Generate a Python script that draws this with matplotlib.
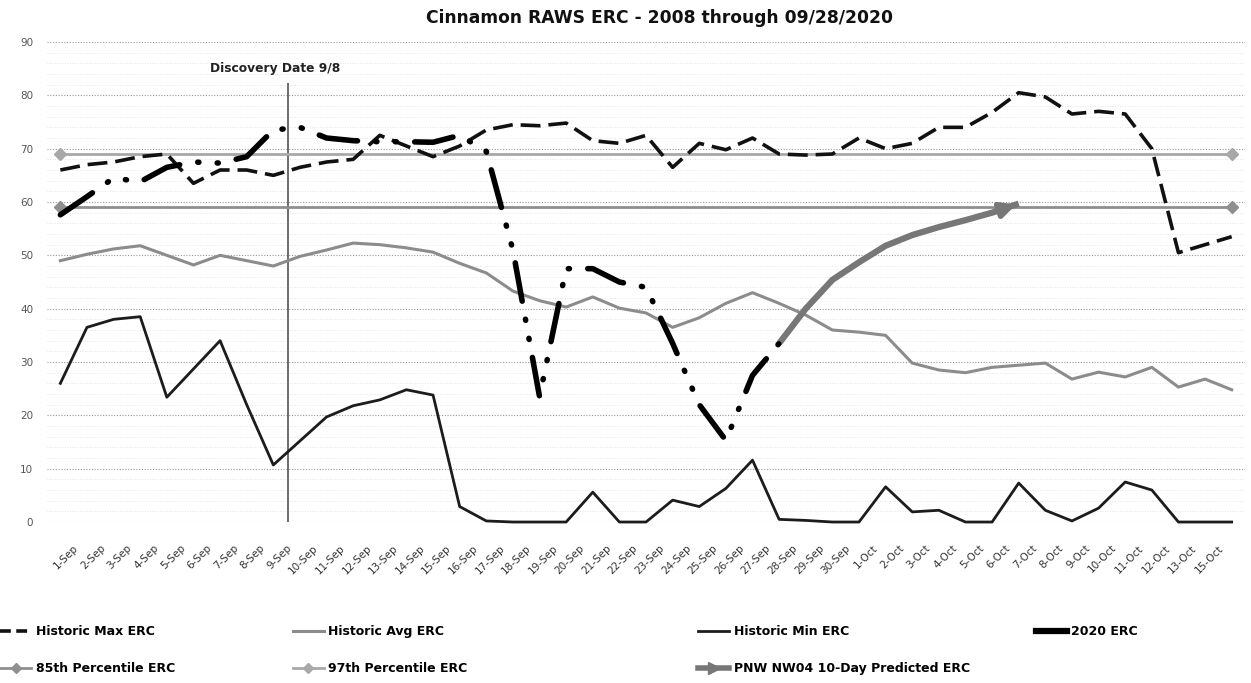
import numpy as np
import matplotlib.pyplot as plt
from matplotlib.lines import Line2D
from matplotlib.ticker import MultipleLocator
import matplotlib.transforms as mtransforms

# categories along the x axis (last category carries no label in the original)
day_labels = [
    "1-Sep", "2-Sep", "3-Sep", "4-Sep", "5-Sep", "6-Sep", "7-Sep", "8-Sep", "9-Sep", "10-Sep",
    "11-Sep", "12-Sep", "13-Sep", "14-Sep", "15-Sep", "16-Sep", "17-Sep", "18-Sep", "19-Sep", "20-Sep",
    "21-Sep", "22-Sep", "23-Sep", "24-Sep", "25-Sep", "26-Sep", "27-Sep", "28-Sep", "29-Sep", "30-Sep",
    "1-Oct", "2-Oct", "3-Oct", "4-Oct", "5-Oct", "6-Oct", "7-Oct", "8-Oct", "9-Oct", "10-Oct",
    "11-Oct", "12-Oct", "13-Oct", "15-Oct", "",
]

hist_max = [66, 67, 67.5, 68.5, 69, 63.5, 66, 66, 65, 66.5,
            67.5, 68, 72.5, 70.5, 68.5, 70.5, 73.5, 74.5, 74.3, 74.8,
            71.5, 71, 72.5, 66.5, 71, 69.8, 72, 69, 68.8, 69,
            72, 70, 71, 74, 74, 76.8, 80.5, 79.7, 76.5, 77,
            76.5, 70, 50.5, 52, 53.5]

hist_avg = [49, 50.2, 51.2, 51.8, 50, 48.2, 50, 49, 48, 49.8,
            51, 52.3, 52, 51.4, 50.6, 48.5, 46.7, 43.3, 41.5, 40.3,
            42.2, 40.1, 39.2, 36.5, 38.3, 41, 43, 41, 38.8, 36,
            35.6, 35, 29.8, 28.5, 28, 29, 29.4, 29.8, 26.8, 28.1,
            27.2, 29, 25.3, 26.8, 24.8]

hist_min = [26, 36.5, 38, 38.5, 23.4, 28.7, 34, 22, 10.7, 15.2,
            19.7, 21.8, 22.9, 24.8, 23.8, 2.9, 0.2, 0, 0, 0,
            5.6, 0, 0, 4.1, 2.9, 6.3, 11.6, 0.5, 0.3, 0,
            0, 6.6, 1.9, 2.2, 0, 0, 7.3, 2.2, 0.2, 2.6,
            7.5, 6, 0, 0, 0]

nan = np.nan
erc_2020 = [57.6, 61, 64.5, 63.8, 66.5, 67.5, 67.3, 68.5, 73.5, 74,
            72, 71.5, 71.3, 71.3, 71.2, 72.5, 69.5, 51, 23.5, 47.5,
            47.5, 45, 44, 33.5, 22, 15.3, 27.5, 33.5, nan, nan,
            nan, nan, nan, nan, nan, nan, nan, nan, nan, nan,
            nan, nan, nan, nan, nan]

predicted = [nan, nan, nan, nan, nan, nan, nan, nan, nan, nan,
             nan, nan, nan, nan, nan, nan, nan, nan, nan, nan,
             nan, nan, nan, nan, nan, nan, nan, 33.5, 40, 45.4,
             48.7, 51.8, 53.8, 55.3, 56.6, 58, 59.7, nan, nan, nan,
             nan, nan, nan, nan, nan]

pct85 = 59
pct97 = 69

discovery_pos = 8.55   # where the "Discovery Date 9/8" marker sits on the category axis
discovery_top = 82.3

x = np.arange(len(day_labels))

fig = plt.figure(figsize=(12.51, 6.83), dpi=100)
ax = fig.add_axes([0.0376, 0.2357, 0.9576, 0.7028])

# gridlines
ax.set_ylim(0, 90)
ax.set_xlim(-0.5, len(x) - 0.5)
ax.yaxis.set_major_locator(MultipleLocator(10))
ax.yaxis.set_minor_locator(MultipleLocator(2))
ax.grid(axis="y", which="major", color="#9a9a9a", lw=0.8, linestyle=(0, (1, 1.5)))
ax.grid(axis="y", which="minor", color="#dcdcdc", lw=0.6, linestyle=(0, (1, 2)))
ax.set_axisbelow(True)
for s in ax.spines.values():
    s.set_visible(False)

# series
ax.plot(x, hist_avg, color="#8c8c8c", lw=2.2, zorder=3)
ax.plot(x, hist_min, color="#1c1c1c", lw=2.0, zorder=3, clip_on=False)
ax.plot(x, np.full(len(x), pct97), color="#a8a8a8", lw=2.0, marker="D", ms=6,
        markevery=[0, len(x) - 1], zorder=3)
ax.plot(x, np.full(len(x), pct85), color="#8f8f8f", lw=2.0, marker="D", ms=6,
        markevery=[0, len(x) - 1], zorder=3)
ax.plot(x, hist_max, color="#111111", lw=2.6, dashes=(5.5, 2.2), zorder=4)

pred = np.array(predicted)
ok = np.where(~np.isnan(pred))[0]
ax.plot(x, pred, color="#777777", lw=4.5, zorder=4, solid_capstyle="butt")
ax.annotate("", xy=(x[ok[-1]], pred[ok[-1]]), xytext=(x[ok[-2]], pred[ok[-2]]),
            arrowprops=dict(arrowstyle="-|>", color="#777777", lw=4, mutation_scale=22),
            zorder=4)

ax.plot(x, erc_2020, color="black", lw=4.0, dashes=(7, 3.3, 0.2, 3.3, 0.2, 3.3),
        dash_capstyle="round", zorder=5)

# discovery marker
ax.vlines(discovery_pos, 0, discovery_top, color="#444444", lw=1.1, zorder=2)
ax.text(discovery_pos - 0.5, 85, "Discovery Date 9/8", ha="center", va="center",
        fontsize=8.8, fontweight="bold", color="#222222")

# ticks
ax.set_xticks(x)
ax.set_xticklabels(day_labels, rotation=45, ha="right", rotation_mode="anchor",
                   fontsize=7.5, color="#333333")
ax.tick_params(axis="x", which="both", length=0, pad=15)
ax.tick_params(axis="y", which="both", length=0, pad=10, labelsize=7.5, labelcolor="#555555")
shift = mtransforms.ScaledTranslation(13 / 100, 0, fig.dpi_scale_trans)
for lab in ax.get_xticklabels():
    lab.set_transform(lab.get_transform() + shift)

fig.text(0.527, 0.974, "Cinnamon RAWS ERC - 2008 through 09/28/2020", ha="center", va="center",
         fontsize=12.3, fontweight="bold", color="#111111")

# legend, one block per column as in the original
h_max = Line2D([], [], color="#111111", lw=2.6, dashes=(3, 1.5))
h_85 = Line2D([], [], color="#8f8f8f", lw=2.0, marker="D", ms=5, markevery=[0])
h_avg = Line2D([], [], color="#8c8c8c", lw=2.2)
h_97 = Line2D([], [], color="#a8a8a8", lw=2.0, marker="D", ms=5, markevery=[0])
h_min = Line2D([], [], color="#1c1c1c", lw=2.0)
h_pred = Line2D([], [], color="#777777", lw=4, marker=">", ms=8, markevery=[1])
h_2020 = Line2D([], [], color="black", lw=4.5)

legend_cols = [
    (0.0, [h_max, h_85], ["Historic Max ERC", "85th Percentile ERC"]),
    (0.234, [h_avg, h_97], ["Historic Avg ERC", "97th Percentile ERC"]),
    (0.558, [h_min, h_pred], ["Historic Min ERC", "PNW NW04 10-Day Predicted ERC"]),
    (0.828, [h_2020], ["2020 ERC"]),
]
for xpos, hs, ls in legend_cols:
    fig.legend(hs, ls, loc="upper left", bbox_to_anchor=(xpos, 0.085), frameon=False,
               handlelength=2.5, handletextpad=0.35, labelspacing=1.95, borderpad=0,
               borderaxespad=0, prop={"weight": "bold", "size": 9})

fig.savefig("out.png", dpi=100, facecolor="white")
